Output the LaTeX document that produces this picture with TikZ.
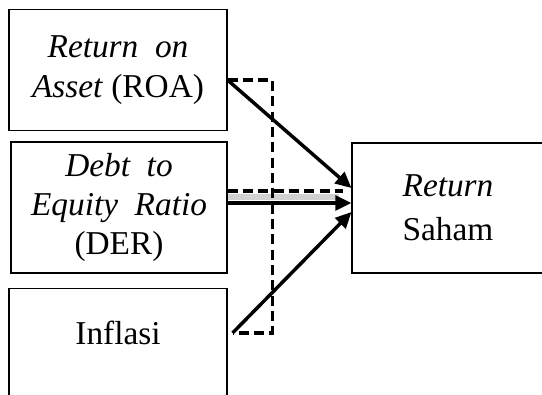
\documentclass[tikz,border=0pt]{standalone}
\usepackage{fontspec}
\setmainfont{Liberation Serif}
\usetikzlibrary{arrows.meta,calc}
\tikzset{
  varbox/.style={draw, line width=0.8pt, align=center, inner sep=0pt, font=\fontsize{25}{29.5}\selectfont},
  arrow/.style={-{Triangle[length=12pt, width=11pt]}, line width=2.6pt},
  dashline/.style={line width=2.6pt, dash pattern=on 7.5pt off 4pt},
  shadowline/.style={line width=5pt, black!18}
}

\begin{document}
\begin{tikzpicture}[x=0.75pt, y=-0.75pt]
  \useasboundingbox (0,0) rectangle (542,394);
  \clip (0,0) rectangle (542,394);
  \node[varbox, minimum width=163.5pt, minimum height=90.75pt] (roa) at (118,70) {\textit{Return\ \ on}\\\textit{Asset}\ (ROA)};
  \node[varbox, minimum width=162pt, minimum height=98.25pt] (der) at (119,207.5) {\textit{Debt\ \ to}\\\textit{Equity\ \ Ratio}\\(DER)};
  \node[varbox, anchor=north, minimum width=163.5pt, inner ysep=25pt, text height=17pt, text depth=40pt] (infl) at (118,288) {Inflasi};
  \node[varbox, minimum width=144pt, minimum height=97.5pt, font=\fontsize{25}{33}\selectfont] (saham) at (448,208) {\textit{Return}\\Saham};
  \coordinate (roaout) at ($(roa.east)+(0,10)$);
  \coordinate (elbow) at ($(roaout)+(45,0)$);
  \coordinate (inflout) at ($(infl.north east)+(5,45)$);
  \coordinate (derdash) at ($(der.east)+(0,-16.5)$);
  \coordinate (dershadow) at ($(der.east)+(0,-10.5)$);
  \coordinate (derout) at ($(der.east)+(0,-4.5)$);
  % dashed paths
  \draw[shadowline] (dershadow) -- ($(saham.west |- dershadow)+(-12,0)$);
  \draw[dashline] (roaout) -- (elbow) -- (elbow |- inflout) -- (inflout);
  \draw[dashline] (derdash) -- ($(saham.west |- derdash)+(-8,0)$);
  % arrows
  \draw[arrow] (roaout) -- ($(saham.west)+(0,-20)$);
  \draw[arrow] (derout) -- (saham.west |- derout);
  \draw[arrow] (inflout) -- ($(saham.west)+(0,4)$);
\end{tikzpicture}
\end{document}
